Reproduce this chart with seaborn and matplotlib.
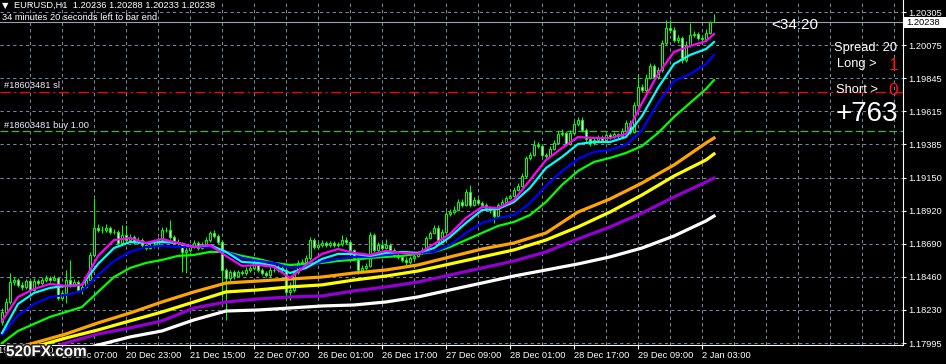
import numpy as np
import matplotlib
matplotlib.use("Agg")
import matplotlib.pyplot as plt
from matplotlib.patches import Rectangle
import matplotlib.patheffects as pe
import seaborn as sns

# ---------------- data (prices stored as points above 1.18000) ----------------
BASE = 1.18000
POINT = 0.00001

first_open_pts = 145
close_pts = [214, 284, 423, 437, 403, 389, 430, 368, 430, 416,
             437, 451, 437, 451, 312, 347, 437, 403, 423, 368,
             389, 437, 612, 800, 786, 786, 800, 772, 772, 695,
             751, 716, 737, 702, 716, 681, 660, 674, 681, 716,
             786, 786, 737, 702, 695, 633, 647, 674, 695, 660,
             688, 716, 765, 744, 702, 507, 451, 493, 465, 493,
             486, 507, 521, 563, 507, 486, 472, 507, 507, 521,
             507, 354, 368, 493, 556, 563, 591, 716, 667, 681,
             695, 681, 695, 681, 688, 716, 702, 647, 591, 507,
             521, 535, 751, 647, 681, 660, 681, 647, 612, 598,
             577, 563, 591, 605, 626, 647, 730, 765, 800, 702,
             772, 897, 911, 925, 981, 960, 1051, 960, 995, 974,
             960, 939, 925, 883, 960, 981, 1009, 1023, 1065, 1093,
             1162, 1288, 1309, 1378, 1371, 1309, 1302, 1350, 1392, 1455,
             1462, 1385, 1462, 1525, 1553, 1483, 1420, 1392, 1413, 1434,
             1413, 1448, 1434, 1455, 1441, 1476, 1532, 1469, 1657, 1783,
             1762, 1845, 1929, 1852, 1901, 2089, 2194, 2180, 2110, 2124,
             1971, 2075, 2145, 2152, 2124, 2117, 2159, 2236, 2238]
high_pts = [240, 310, 486, 460, 450, 420, 445, 440, 450, 445,
            455, 470, 465, 472, 460, 365, 507, 577, 445, 435,
            410, 455, 630, 1009, 830, 815, 825, 815, 790, 785,
            821, 821, 760, 750, 735, 730, 690, 695, 700, 735,
            805, 810, 856, 750, 720, 705, 665, 690, 715, 710,
            705, 735, 780, 785, 760, 715, 520, 510, 505, 510,
            505, 525, 540, 585, 575, 520, 500, 525, 525, 540,
            535, 520, 420, 510, 575, 585, 610, 740, 730, 700,
            715, 710, 712, 708, 705, 751, 740, 712, 655, 600,
            540, 555, 772, 765, 700, 700, 720, 695, 660, 630,
            610, 595, 605, 620, 640, 665, 745, 780, 820, 821,
            790, 915, 935, 950, 1000, 1000, 1070, 1100, 1015, 1010,
            985, 975, 950, 935, 975, 1000, 1025, 1040, 1085, 1110,
            1180, 1305, 1330, 1413, 1400, 1385, 1325, 1370, 1410, 1475,
            1490, 1475, 1480, 1545, 1575, 1575, 1495, 1430, 1430, 1450,
            1445, 1465, 1460, 1470, 1465, 1495, 1550, 1550, 1675, 1866,
            1800, 1870, 1950, 1945, 1920, 2110, 2250, 2250, 2200, 2145,
            2140, 2100, 2229, 2170, 2165, 2145, 2190, 2245, 2288]
low_pts = [120, 200, 270, 405, 390, 370, 375, 350, 360, 400,
           405, 425, 420, 430, 300, 295, 277, 390, 395, 355,
           340, 380, 425, 600, 770, 765, 775, 760, 755, 680,
           685, 700, 705, 690, 690, 665, 645, 650, 660, 670,
           705, 770, 725, 690, 680, 493, 486, 630, 660, 645,
           650, 675, 705, 730, 690, 319, 159, 430, 445, 455,
           470, 470, 495, 510, 490, 470, 455, 460, 490, 495,
           490, 298, 300, 355, 480, 545, 550, 580, 655, 650,
           670, 665, 670, 668, 670, 675, 690, 630, 575, 480,
           495, 505, 525, 630, 635, 645, 650, 630, 600, 585,
           560, 545, 550, 580, 595, 615, 635, 720, 755, 690,
           695, 760, 885, 900, 915, 945, 950, 945, 950, 960,
           945, 925, 905, 835, 875, 950, 970, 1000, 1015, 1055,
           1085, 1150, 1275, 1300, 1355, 1295, 1285, 1295, 1340, 1385,
           1440, 1370, 1375, 1450, 1510, 1470, 1400, 1370, 1380, 1400,
           1400, 1405, 1420, 1425, 1425, 1430, 1465, 1455, 1460, 1645,
           1745, 1750, 1835, 1835, 1840, 1890, 2075, 2160, 2095, 2090,
           1950, 1960, 2060, 2130, 2110, 2100, 2105, 2150, 2233]

# moving averages, read every 4 bars (fast) and every 8 bars (slow)
fast_bars = list(range(0, 177, 4)) + [178]
slow_bars = list(range(0, 177, 8)) + [178]
ma_magenta = [152, 319, 375, 410, 396, 403, 605, 716, 730, 695, 723, 695, 667, 681, 605, 535,
              542, 528, 451, 542, 619, 653, 626, 612, 640, 626, 619, 688, 758, 870, 946, 939,
              995, 1134, 1274, 1357, 1434, 1427, 1427, 1455, 1671, 1873, 2027, 2068, 2103, 2152]
ma_cyan = [68, 270, 347, 382, 396, 403, 549, 660, 702, 695, 702, 695, 667, 681, 633, 563,
           556, 535, 486, 521, 584, 619, 619, 605, 626, 633, 626, 660, 737, 835, 925, 932,
           981, 1079, 1218, 1295, 1385, 1399, 1399, 1434, 1580, 1776, 1943, 2006, 2047, 2096]
ma_blue = [54, 193, 270, 319, 333, 361, 472, 570, 633, 667, 674, 667, 667, 667, 633, 591,
           570, 556, 521, 535, 563, 584, 598, 598, 612, 626, 626, 633, 681, 765, 835, 870,
           890, 974, 1093, 1197, 1281, 1330, 1344, 1378, 1483, 1671, 1824, 1873, 1943, 2006]
ma_green = [-2, 82, 131, 180, 214, 249, 354, 458, 521, 556, 577, 605, 612, 633, 633, 605,
            584, 556, 542, 549, 556, 570, 577, 591, 598, 605, 619, 633, 667, 716, 765, 814,
            842, 890, 981, 1100, 1197, 1260, 1288, 1323, 1371, 1462, 1574, 1671, 1769, 1831]
ma_orange = [-64, -2, 61, 138, 207, 284, 354, 416, 430, 444, 458, 486,
             507, 542, 598, 653, 695, 765, 911, 1002, 1113, 1239, 1392, 1427]
ma_yellow = [-85, -30, 33, 89, 152, 214, 284, 354, 368, 389, 403, 437,
             465, 500, 549, 598, 647, 716, 807, 911, 1030, 1162, 1274, 1316]
ma_purple = [-155, -85, -2, 61, 103, 152, 242, 284, 305, 319, 326, 361,
             389, 423, 472, 521, 570, 633, 723, 807, 904, 1016, 1120, 1148]
ma_white = [-190, -134, -78, -16, 40, 82, 159, 221, 228, 242, 256, 263,
            284, 319, 368, 416, 465, 507, 549, 598, 660, 744, 849, 883]

tick_bars = [15, 31, 47, 63, 79, 95, 111, 127, 143, 159, 175]
tick_labels = ["20 Dec 07:00", "20 Dec 23:00", "21 Dec 15:00", "22 Dec 07:00",
               "26 Dec 01:00", "26 Dec 17:00", "27 Dec 09:00", "28 Dec 01:00",
               "28 Dec 17:00", "29 Dec 09:00", "2 Jan 03:00"]
first_label_bar = -1
first_label = "19 Dec 15:00"
grid_bars = list(range(7, 224, 8))

price_ticks = [1.20305, 1.20075, 1.19845, 1.19615, 1.19385, 1.19150,
               1.18920, 1.18690, 1.18460, 1.18230, 1.17995]
price_labels = ["1.20305", "1.20075", "1.19845", "1.19615", "1.19385", "1.19150",
                "1.18920", "1.18690", "1.18460", "1.18230", "1.17995"]

bid_price = 1.20238
sl_price = 1.19750
buy_price = 1.19475

# ---------------- figure ----------------
plt.rcParams['font.family'] = ['Liberation Sans', 'DejaVu Sans']
plt.rcParams['lines.scale_dashes'] = False

W, H = 946, 364
fig = plt.figure(figsize=(W / 100, H / 100), dpi=100, facecolor='black')
ax = fig.add_axes([0, 19 / H, 903 / W, 345 / H])
ax.set_facecolor('black')

LIME = '#00ff00'
GRID = '#778899'

bars = np.arange(len(close_pts))
close = BASE + np.array(close_pts) * POINT
high = BASE + np.array(high_pts) * POINT
low = BASE + np.array(low_pts) * POINT
opens = np.concatenate([[BASE + first_open_pts * POINT], close[:-1]])

# grid
ax.set_xticks(tick_bars)
ax.set_xticklabels(tick_labels, ha='left')
ax.set_xticks(grid_bars, minor=True)
ax.set_yticks(price_ticks)
ax.set_yticklabels(price_labels)
ax.yaxis.tick_right()
ax.grid(True, axis='x', which='both', color=GRID, linewidth=0.75,
        linestyle=(0, (2.3, 2.3)), zorder=1)
ax.grid(True, axis='y', which='major', color=GRID, linewidth=0.75,
        linestyle=(0, (2.3, 2.3)), zorder=1)

# trade / price lines
ax.axhline(bid_price, color='#9aa3ad', linewidth=0.8, zorder=2)
ax.axhline(sl_price, color='#ff0000', linewidth=0.9,
           linestyle=(0, (7.5, 2.5, 1.5, 2.5)), zorder=2)
ax.axhline(buy_price, color='#2fbf2f', linewidth=0.9,
           linestyle=(0, (5.5, 2.5)), zorder=2)

# candles
ax.vlines(bars, low, high, color=LIME, linewidth=0.75, zorder=3)
bull = close >= opens
body_bottom = np.minimum(opens, close)
body_h = np.abs(close - opens)
ax.bar(bars, body_h, bottom=body_bottom, width=0.55,
       color=np.where(bull, 'black', 'white'), edgecolor=LIME,
       linewidth=0.75, zorder=4)

# moving averages
ma_specs = [
    (slow_bars, ma_white, '#ffffff', 2.3),
    (slow_bars, ma_purple, '#9400d3', 2.3),
    (slow_bars, ma_yellow, '#ffff00', 2.3),
    (slow_bars, ma_orange, '#ffa500', 2.3),
    (fast_bars, ma_green, '#00ff00', 1.6),
    (fast_bars, ma_blue, '#0000ff', 1.6),
    (fast_bars, ma_cyan, '#00ffff', 1.6),
    (fast_bars, ma_magenta, '#ff00ff', 1.6),
]
for xb, pts, col, lw in ma_specs:
    sns.lineplot(x=xb, y=BASE + np.array(pts) * POINT, color=col,
                 linewidth=lw, ax=ax, zorder=5, estimator=None, sort=False)

ax.set_xlim(-0.5, 225.25)
ax.set_ylim(1.17984, 1.20389)
ax.set_xlabel('')
ax.set_ylabel('')

for s in ['left', 'top']:
    ax.spines[s].set_visible(False)
for s in ['right', 'bottom']:
    ax.spines[s].set_color('white')
    ax.spines[s].set_linewidth(0.8)

ax.tick_params(axis='x', which='major', colors='white', labelcolor='white',
               length=3, width=0.8, pad=1.2, labelsize=6.7)
ax.tick_params(axis='x', which='minor', length=0)
ax.tick_params(axis='y', colors='white', labelcolor='white',
               length=2.5, width=0.8, pad=1.5, labelsize=6.7)

ax.text(first_label_bar - 0.1, -0.004, first_label, transform=ax.get_xaxis_transform(),
        ha='left', va='top', color='white', fontsize=6.7, clip_on=False)
# nudge labels so the first line of text is positioned like tick labels
for t in ax.get_xticklabels():
    t.set_va('top')


def ftxt(x, y, s, **kw):
    return fig.text(x / W, 1 - y / H, s, **kw)


# header texts
ftxt(2, 5.5, "\u25bc", color='white', fontsize=6, va='center', ha='left',
     family=['DejaVu Sans'])
ftxt(14, 5.5, "EURUSD,H1  1.20236 1.20288 1.20233 1.20238", color='white',
     fontsize=6.7, va='center', ha='left')
ftxt(2, 17.5, "34 minutes 20 seconds left to bar end", color='white',
     fontsize=6.7, va='center', ha='left')

# order labels
ftxt(4, 86, "#18603481 sl", color='#e8eeff', fontsize=6.7, va='center', ha='left')
ftxt(4, 125.5, "#18603481 buy 1.00", color='#e8eeff', fontsize=6.7, va='center', ha='left')

# info panel
ftxt(771, 25, "<34:20", color='white', fontsize=11, va='center', ha='left')
ftxt(834, 48.5, "Spread: 20", color='white', fontsize=9.3, va='center', ha='left')
ftxt(837, 64.5, "Long >", color='white', fontsize=9.3, va='center', ha='left')
ftxt(893, 66, "1", color='#ff1010', fontsize=12.5, va='center', ha='center')
ftxt(836, 90, "Short >", color='white', fontsize=9.3, va='center', ha='left')
ftxt(893, 90.5, "0", color='#ff1010', fontsize=12.5, va='center', ha='center')
ftxt(836, 114, "+763", color='white', fontsize=20, va='center', ha='left')

# current price box
fig.patches.append(Rectangle((904 / W, 1 - 28 / H), 42 / W, 11 / H,
                             transform=fig.transFigure, facecolor='white',
                             edgecolor='none', zorder=10))
ftxt(906, 22.5, "1.20238", color='black', fontsize=6.7, va='center', ha='left', zorder=11)

# watermark
ftxt(6, 352, "520FX.com", color='white', fontsize=11, fontweight='bold',
     va='center', ha='left', zorder=20,
     path_effects=[pe.withStroke(linewidth=2.2, foreground='#202020')])

fig.savefig("out.png", dpi=100, facecolor='black')
